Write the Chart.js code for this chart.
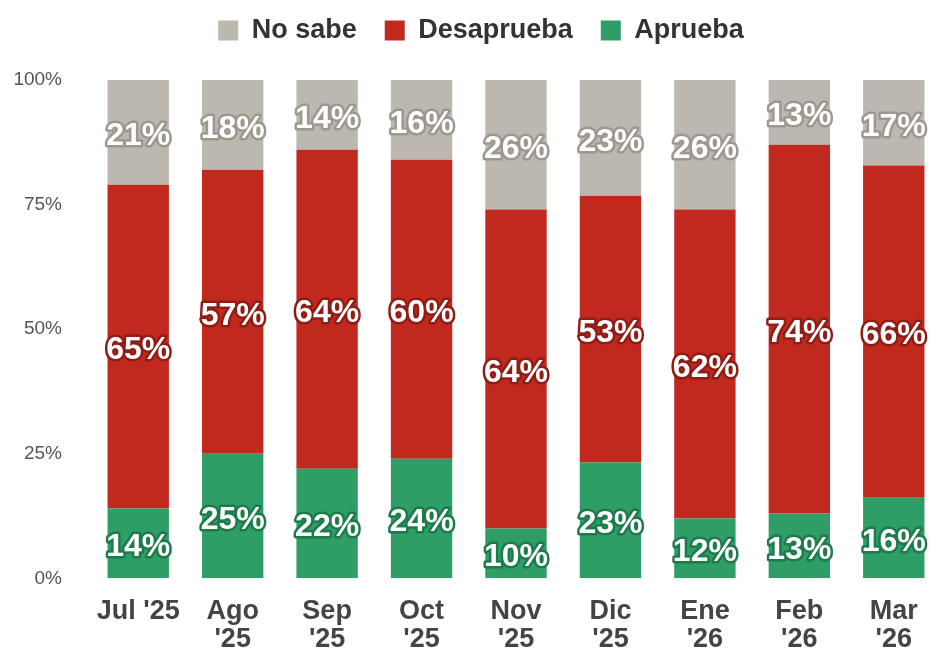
<!DOCTYPE html>
<html>
<head>
<meta charset="utf-8"/>
<title>Aprobacion</title>
<script src="https://cdn.jsdelivr.net/npm/chart.js@4"></script>
<style>
  body { margin: 0; background: #fff; }
  #wrap { width: 941px; height: 653px; }
</style>
</head>
<body>
<div id="wrap"><canvas id="chart"></canvas></div>
<script>
var labels = [["Jul '25"], ["Ago", "'25"], ["Sep", "'25"], ["Oct", "'25"], ["Nov", "'25"], ["Dic", "'25"], ["Ene", "'26"], ["Feb", "'26"], ["Mar", "'26"]];
var aprueba    = [14, 25, 22, 24, 10, 23, 12, 13, 16];
var desaprueba = [65, 57, 64, 60, 64, 53, 62, 74, 66];
var noSabe     = [21, 18, 14, 16, 26, 23, 26, 13, 17];
var yTicks = [0, 25, 50, 75, 100];

// bars are drawn as share of each month's total so every column fills 100%
function share(arr) {
  return arr.map(function (v, i) {
    return v / (aprueba[i] + desaprueba[i] + noSabe[i]) * 100;
  });
}

var outline = {
  'Aprueba': '#1d7a4b',
  'Desaprueba': '#8f1c15',
  'No sabe': '#9d978f'
};
var FONT = '"Liberation Sans", Arial, sans-serif';

var valueLabels = {
  id: 'valueLabels',
  afterDatasetsDraw: function (chart) {
    var ctx = chart.ctx;
    ctx.save();
    ctx.font = 'bold 32px ' + FONT;
    ctx.textAlign = 'center';
    ctx.textBaseline = 'middle';
    ctx.lineJoin = 'round';
    chart.data.datasets.forEach(function (ds, di) {
      var meta = chart.getDatasetMeta(di);
      meta.data.forEach(function (bar, i) {
        var txt = ds.raw[i] + '%';
        var y = (bar.y + bar.base) / 2 + 4;
        ctx.lineWidth = 5;
        ctx.strokeStyle = outline[ds.label];
        ctx.strokeText(txt, bar.x, y);
        ctx.fillStyle = '#ffffff';
        ctx.fillText(txt, bar.x, y);
      });
    });
    ctx.restore();
  }
};

// extra room under the legend
var legendGap = {
  id: 'legendGap',
  beforeInit: function (chart) {
    var fit = chart.legend.fit;
    chart.legend.fit = function () {
      fit.call(this);
      this.height += 26;
    };
  }
};

var ctx = document.getElementById("chart");
var myChart = new Chart(ctx, {
  type: 'bar',
  data: {
    labels: labels,
    datasets: [{
      label: 'Aprueba',
      raw: aprueba,
      data: share(aprueba),
      backgroundColor: '#2e9e66'
    }, {
      label: 'Desaprueba',
      raw: desaprueba,
      data: share(desaprueba),
      backgroundColor: '#c1291f'
    }, {
      label: 'No sabe',
      raw: noSabe,
      data: share(noSabe),
      backgroundColor: '#bcb8b0'
    }]
  },
  options: {
    responsive: true,
    maintainAspectRatio: false,
    animation: false,
    layout: { padding: { left: 10, right: -11, top: -11, bottom: -12 } },
    datasets: { bar: { barPercentage: 0.65, categoryPercentage: 1 } },
    scales: {
      x: {
        stacked: true,
        grid: { display: false },
        border: { display: false },
        ticks: {
          color: '#444',
          padding: 11,
          maxRotation: 0,
          autoSkip: false,
          font: { family: FONT, size: 27, weight: 'bold', lineHeight: 1.05 }
        }
      },
      y: {
        stacked: true,
        min: 0,
        max: 100,
        grid: { display: false, drawTicks: false },
        border: { display: false },
        afterBuildTicks: function (axis) {
          axis.ticks = yTicks.map(function (v) { return { value: v }; });
        },
        afterFit: function (axis) {
          axis.width = 81;
        },
        ticks: {
          color: '#555',
          padding: 29,
          font: { family: FONT, size: 19 },
          callback: function (v) { return v + '%'; }
        }
      }
    },
    plugins: {
      tooltip: { enabled: false },
      legend: {
        position: 'top',
        reverse: true,
        labels: {
          color: '#333',
          boxWidth: 20,
          boxHeight: 20,
          padding: 28,
          font: { family: FONT, size: 27, weight: 'bold' }
        }
      }
    }
  },
  plugins: [valueLabels, legendGap]
});
</script>
</body>
</html>
